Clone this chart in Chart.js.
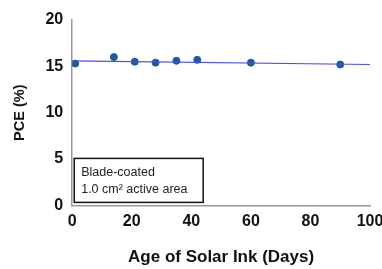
<!DOCTYPE html>
<html>
<head>
<meta charset="utf-8">
<script src="https://cdn.jsdelivr.net/npm/chart.js@4"></script>
<style>
	html, body { margin: 0; padding: 0; background: #fff; overflow: hidden; }
	#wrap { width: 395px; height: 269px; }
</style>
</head>
<body>
<div id="wrap"><canvas id="myChart"></canvas></div>
<script>
	// Data
	const ageDays = [1, 14, 21, 28, 35, 42, 60, 90];
	const pce = [15.3, 16.0, 15.5, 15.4, 15.6, 15.7, 15.4, 15.2];
	const fitX = [0, 100];
	const fitY = [15.6, 15.2];
	const xTicks = [0, 20, 40, 60, 80, 100];
	const yTicks = [0, 5, 10, 15, 20];
	const noteLines = ["Blade-coated", "1.0 cm\u00B2 active area"];

	const font = "'Liberation Sans', Arial, sans-serif";

	// note box in the lower left of the plot
	const notePlugin = {
		id: "note",
		afterDraw(chart) {
			const { ctx, chartArea } = chart;
			const x = chartArea.left + 2;
			const y = chartArea.bottom - 47;
			ctx.save();
			ctx.strokeStyle = "#111";
			ctx.lineWidth = 1.5;
			ctx.fillStyle = "#fff";
			ctx.fillRect(x, y, 129, 44);
			ctx.strokeRect(x, y, 129, 44);
			ctx.fillStyle = "#222";
			ctx.font = "12.5px " + font;
			ctx.textBaseline = "middle";
			ctx.fillText(noteLines[0], x + 7, y + 14);
			ctx.fillText(noteLines[1], x + 7, y + 31);
			ctx.restore();
		},
	};

	const ctx = document.getElementById("myChart");
	// eslint-disable-next-line no-unused-vars
	const myChart = new Chart(ctx, {
		type: "scatter",
		data: {
			datasets: [
				{
					type: "line",
					data: fitX.map((x, i) => ({ x: x, y: fitY[i] })),
					borderColor: "#4a4cf0",
					borderWidth: 1.2,
					pointRadius: 0,
					fill: false,
				},
				{
					data: ageDays.map((x, i) => ({ x: x, y: pce[i] })),
					backgroundColor: "#1d5a97",
					borderColor: "#1d5a97",
					pointRadius: 3.5,
				},
			],
		},
		options: {
			responsive: true,
			maintainAspectRatio: false,
			animation: false,
			layout: { padding: { left: 7, right: 25, top: 20, bottom: 0 } },
			plugins: {
				legend: { display: false },
				tooltip: { enabled: false },
			},
			scales: {
				x: {
					type: "linear",
					min: 0,
					max: 100,
					afterBuildTicks: (s) => { s.ticks = xTicks.map((v) => ({ value: v })); },
					grid: { display: false, drawTicks: false },
					border: { color: "#999", width: 1.5 },
					ticks: {
						color: "#111",
						padding: 7,
						font: { family: font, size: 16, weight: "bold" },
					},
					title: {
						display: true,
						text: "Age of Solar Ink (Days)",
						color: "#111",
						padding: { top: 9, bottom: 1 },
						font: { family: font, size: 17, weight: "bold" },
					},
				},
				y: {
					min: 0,
					max: 20,
					afterBuildTicks: (s) => { s.ticks = yTicks.map((v) => ({ value: v })); },
					grid: { display: false, drawTicks: false },
					border: { color: "#999", width: 1.5 },
					ticks: {
						color: "#111",
						padding: 9,
						font: { family: font, size: 16, weight: "bold" },
					},
					title: {
						display: true,
						text: "PCE (%)",
						color: "#111",
						padding: { bottom: 8 },
						font: { family: font, size: 14.5, weight: "bold" },
					},
				},
			},
		},
		plugins: [notePlugin],
	});
</script>
</body>
</html>
